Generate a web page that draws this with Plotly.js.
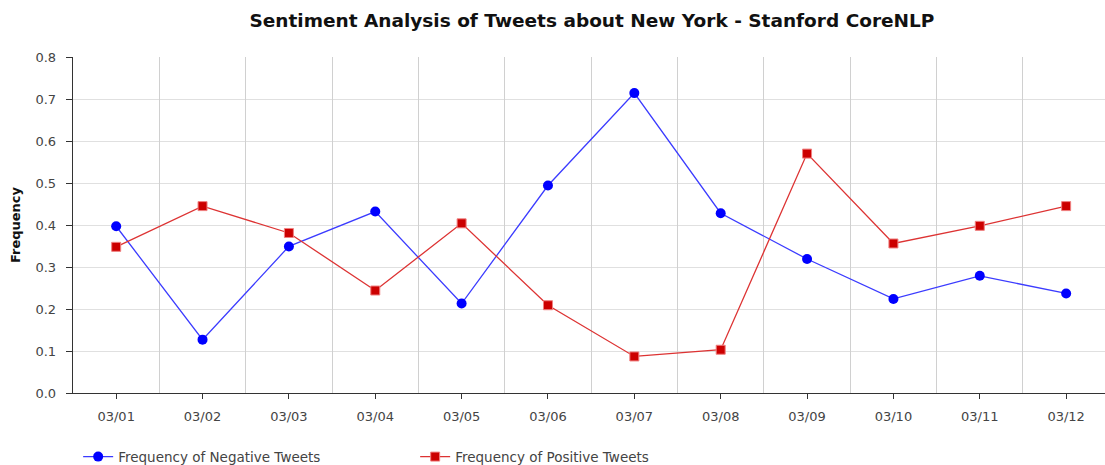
<!DOCTYPE html>
<html>
<head>
<meta charset="utf-8">
<script src="https://cdn.plot.ly/plotly-3.0.1.min.js"></script>
<style>
  html, body { margin: 0; padding: 0; background: #fff; overflow: hidden; }
  #chart { width: 1105px; height: 465px; }
</style>
</head>
<body>
<div id="chart"></div>
<script>
// Days of March covered by the sample
const dates = ["03/01", "03/02", "03/03", "03/04", "03/05", "03/06",
               "03/07", "03/08", "03/09", "03/10", "03/11", "03/12"];

// Share of tweets classified negative / positive by CoreNLP
const negativeFreq = [0.397, 0.127, 0.349, 0.432, 0.213, 0.494,
                      0.714, 0.428, 0.319, 0.224, 0.279, 0.237];
const positiveFreq = [0.348, 0.445, 0.381, 0.244, 0.404, 0.209,
                      0.087, 0.103, 0.570, 0.356, 0.398, 0.445];

const yTicks = [0, 0.1, 0.2, 0.3, 0.4, 0.5, 0.6, 0.7, 0.8];

const FONT = "DejaVu Sans, Verdana, sans-serif";

// vertical grid lines sit between the day columns
const boundaries = dates.slice(1).map((d, i) => i + 0.5);
const xRange = [-0.5, dates.length - 0.55];

const traces = [
  // carrier for the boundary grid axis (draws nothing itself)
  {
    x: xRange, y: [null, null],
    xaxis: "x2", yaxis: "y",
    type: "scatter", mode: "lines",
    showlegend: false, hoverinfo: "skip"
  },
  {
    x: dates, y: negativeFreq,
    name: "Frequency of Negative Tweets",
    type: "scatter", mode: "lines+markers",
    line: { color: "#3b3bff", width: 1.3 },
    marker: { symbol: "circle", size: 10, color: "#0000ff",
              line: { color: "#0000ff", width: 0 } }
  },
  {
    x: dates, y: positiveFreq,
    name: "Frequency of Positive Tweets",
    type: "scatter", mode: "lines+markers",
    line: { color: "#dd3333", width: 1.3 },
    marker: { symbol: "square", size: 9, color: "#cc0000",
              line: { color: "#f08080", width: 1 } }
  }
];

const layout = {
  width: 1105, height: 465,
  margin: { l: 73, r: 0, t: 57, b: 72, pad: 0, autoexpand: false },
  paper_bgcolor: "#ffffff",
  plot_bgcolor: "#ffffff",
  font: { family: FONT, size: 13, color: "#444" },
  title: {
    text: "<b>Sentiment Analysis of Tweets about New York - Stanford CoreNLP</b>",
    font: { family: FONT, size: 18.5, color: "#111" },
    x: 0.5357, xref: "container", xanchor: "center",
    y: 0.955, yref: "container", yanchor: "middle"
  },
  xaxis: {
    type: "category",
    range: xRange,
    showgrid: false,
    showline: true, linecolor: "#333", linewidth: 1.3,
    ticks: "outside", ticklen: 5, tickcolor: "#333", tickwidth: 1,
    ticklabelstandoff: 6,
    tickfont: { family: FONT, size: 13, color: "#444" },
    zeroline: false,
    fixedrange: true
  },
  xaxis2: {
    overlaying: "x",
    anchor: "y",
    range: xRange,
    tickmode: "array",
    tickvals: boundaries,
    showticklabels: false,
    ticks: "",
    showline: false,
    showgrid: true, gridcolor: "#d0d0d0", gridwidth: 1,
    zeroline: false
  },
  yaxis: {
    range: [0, 0.8],
    tickmode: "array",
    tickvals: yTicks,
    tickformat: ".1f",
    showgrid: true, gridcolor: "#e0e0e0", gridwidth: 1,
    showline: true, linecolor: "#333", linewidth: 1.3,
    ticks: "outside", ticklen: 6, tickcolor: "#333", tickwidth: 1,
    ticklabelstandoff: 7,
    tickfont: { family: FONT, size: 13, color: "#444" },
    zeroline: false,
    title: {
      text: "<b>Frequency</b>",
      font: { family: FONT, size: 13, color: "#111" },
      standoff: 12
    }
  },
  showlegend: true,
  legend: {
    orientation: "h",
    x: 0.005, xref: "paper", xanchor: "left",
    y: -0.19, yanchor: "middle",
    font: { family: FONT, size: 13.5, color: "#444" },
    entrywidth: 292,
    itemwidth: 30,
    bgcolor: "rgba(0,0,0,0)"
  }
};

Plotly.newPlot("chart", traces, layout, { displayModeBar: false, staticPlot: true });
</script>
</body>
</html>
